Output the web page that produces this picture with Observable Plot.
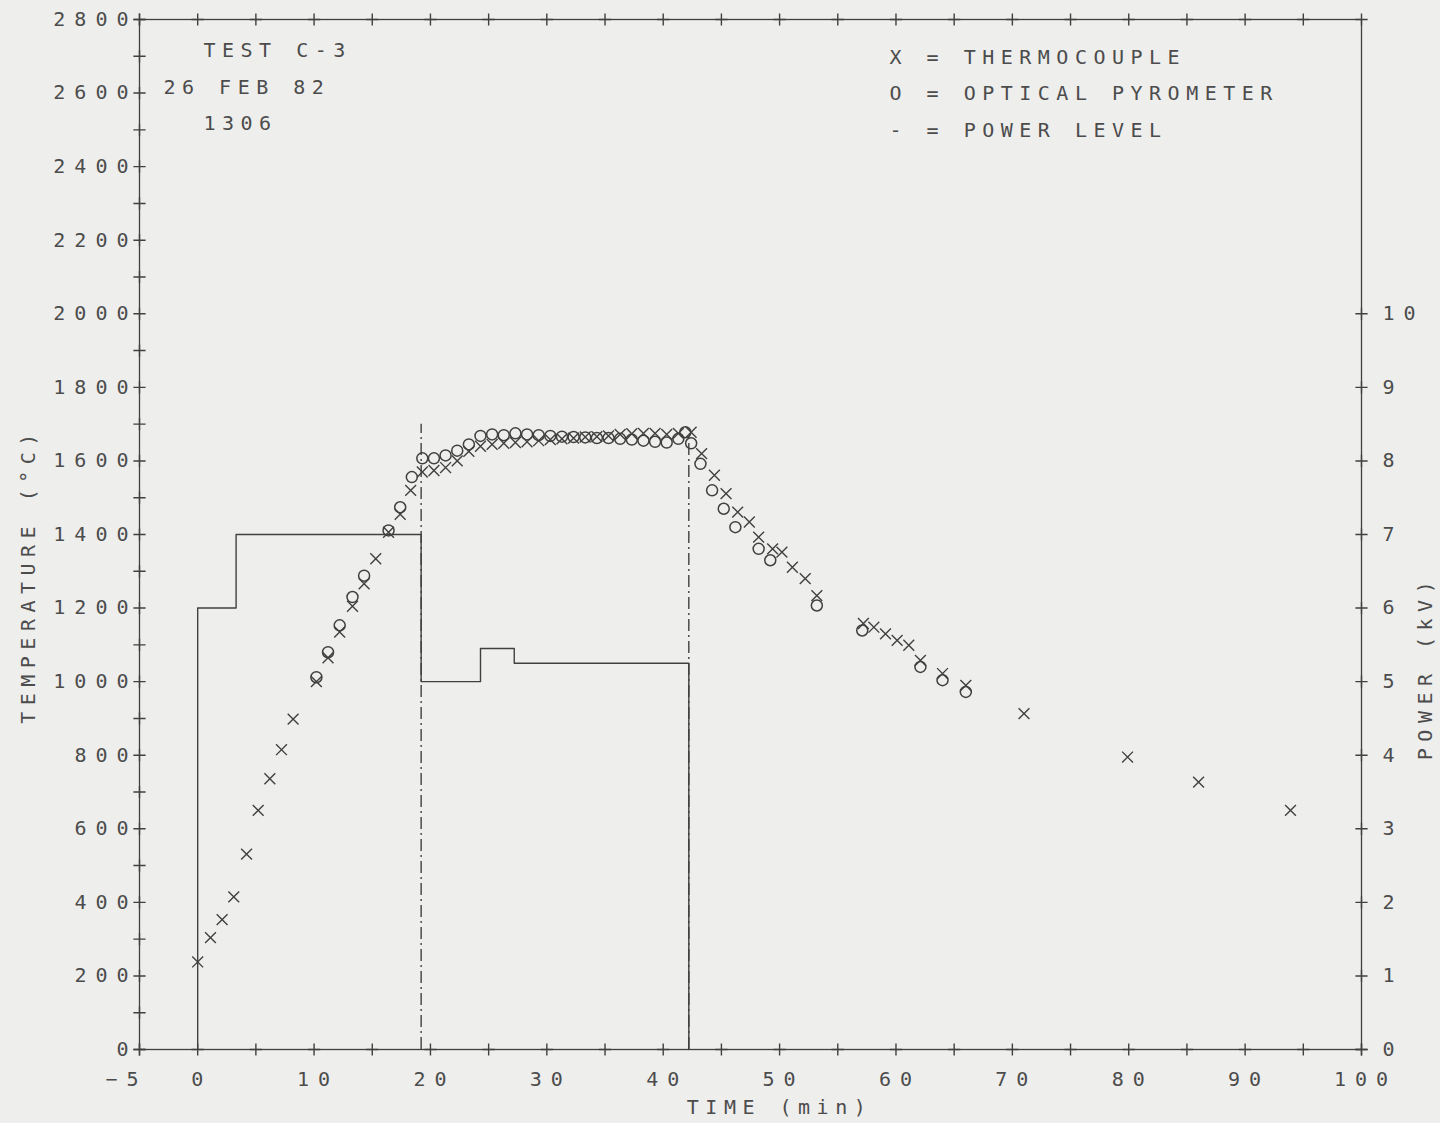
<!DOCTYPE html>
<html>
<head>
<meta charset="utf-8">
<script src="https://cdn.jsdelivr.net/npm/d3@7"></script>
<script src="https://cdn.jsdelivr.net/npm/@observablehq/plot@0.6"></script>
<style>
  html, body { margin: 0; padding: 0; background: #eeeeec; }
  #chart { width: 1440px; height: 1123px; }
</style>
</head>
<body>
<div id="chart"></div>
<script>
// ---- Thermocouple (X) readings: time (min), temperature (°C)
const tcTime = [0.0, 1.1, 2.1, 3.1, 4.2, 5.2, 6.2, 7.2, 8.2, 10.2, 11.2, 12.2, 13.3, 14.3, 15.3, 16.4, 17.4, 18.3,
  19.3, 20.3, 21.3, 22.3, 23.3, 24.3, 25.3, 26.3, 27.3, 28.3, 29.3, 30.3, 31.3, 32.3, 33.3, 34.3, 35.3, 36.3, 37.3, 38.3, 39.3, 40.3, 41.3, 42.4,
  43.3, 44.4, 45.4, 46.4, 47.4, 48.2, 49.4, 50.2, 51.1, 52.2, 53.2,
  57.2, 58.1, 59.1, 60.1, 61.1, 62.1, 64.0, 66.0, 71.0, 79.9, 86.0, 93.9];
const tcTemp = [238, 304, 353, 415, 531, 650, 736, 815, 898, 1000, 1065, 1135, 1205, 1266, 1334, 1406, 1455, 1520,
  1570, 1574, 1582, 1600, 1626, 1640, 1645, 1648, 1650, 1652, 1655, 1658, 1660, 1662, 1665, 1666, 1668, 1672, 1674, 1675, 1675, 1672, 1675, 1678,
  1620, 1561, 1511, 1461, 1434, 1393, 1361, 1352, 1311, 1280, 1234,
  1158, 1148, 1130, 1112, 1099, 1058, 1022, 990, 913, 795, 727, 650];

// ---- Optical pyrometer (O) readings
const pyTime = [10.2, 11.2, 12.2, 13.3, 14.3, 16.4, 17.4, 18.4, 19.3, 20.3, 21.3, 22.3, 23.3, 24.3, 25.3, 26.3, 27.3, 28.3, 29.3,
  30.3, 31.3, 32.3, 33.3, 34.3, 35.3, 36.3, 37.3, 38.3, 39.3, 40.3, 41.3, 41.9, 42.4,
  43.2, 44.2, 45.2, 46.2, 48.2, 49.2, 53.2, 57.1, 62.1, 64.0, 66.0];
const pyTemp = [1012, 1080, 1153, 1230, 1288, 1411, 1474, 1556, 1607, 1607, 1615, 1628, 1645, 1668, 1672, 1670, 1675, 1672, 1670,
  1668, 1666, 1665, 1664, 1662, 1662, 1660, 1658, 1655, 1652, 1650, 1660, 1678, 1648,
  1592, 1520, 1470, 1420, 1361, 1330, 1207, 1139, 1040, 1004, 972];

// ---- Power level (kV), step changes
const powerTime = [0, 0, 3.3, 19.2, 24.3, 27.2, 42.2];
const powerKV   = [0, 6, 7, 5, 5.45, 5.25, 0];

// ---- Power on/off event markers (dash-dot verticals)
const eventTime = [19.2, 42.2];
const eventTop  = [1700, 1670];

// ---- Ticks and labels
const xTickMarks  = d3.range(-5, 101, 5);
const xLabelTicks = [0, 10, 20, 30, 40, 50, 60, 70, 80, 90, 100];
const xTickLabels = ["0", "10", "20", "30", "40", "50", "60", "70", "80", "90", "100"];
const xMinTick = -5, xMinLabel = "−5";
const yTickMarks  = d3.range(0, 2801, 100);
const yLabelTicks = d3.range(0, 2801, 200);
const powerTicks  = [0, 1, 2, 3, 4, 5, 6, 7, 8, 9, 10];
const kvToTemp = 200; // right axis: 1 kV per 200 °C

const annotLines = ["TEST C-3", "26 FEB 82", "1306"];
const legendLines = ["X = THERMOCOUPLE", "O = OPTICAL PYROMETER", "- = POWER LEVEL"];

const tcData = tcTime.map((t, i) => ({t, T: tcTemp[i]}));
const pyData = pyTime.map((t, i) => ({t, T: pyTemp[i]}));
const powerData = powerTime.map((t, i) => ({t, kv: powerKV[i]}));
const events = eventTime.map((t, i) => ({t, top: eventTop[i]}));
const powerTickTemps = powerTicks.map(k => k * kvToTemp);

const ink = "#404040";
const textInk = "#4c4c4c";

// "+" shaped plotter tick: a rotated "times" symbol centred on the axis line
const cross = {symbol: "times", rotate: 45, r: 4, stroke: ink, strokeWidth: 1.4};

const plot = Plot.plot({
  width: 1440,
  height: 1123,
  marginLeft: 139,
  marginRight: 79,
  marginTop: 19,
  marginBottom: 74,
  style: {
    background: "transparent",
    color: textInk,
    fontFamily: "'DejaVu Sans Mono', monospace",
    fontSize: "20px",
    letterSpacing: "6.5px"
  },
  x: {domain: [-5, 100], label: null},
  y: {domain: [0, 2800], label: null},
  marks: [
    Plot.frame({stroke: ink, strokeWidth: 1.3}),
    // cross ("+") tick marks on all four sides
    Plot.dot(xTickMarks, {x: d => d, frameAnchor: "bottom", ...cross}),
    Plot.dot(xTickMarks, {x: d => d, frameAnchor: "top", ...cross}),
    Plot.dot(yTickMarks, {y: d => d, frameAnchor: "left", ...cross}),
    Plot.dot(powerTickTemps, {y: d => d, frameAnchor: "right", ...cross}),
    // tick labels
    Plot.axisX({anchor: "bottom", ticks: xLabelTicks, tickSize: 0, tickPadding: 22, dx: 4,
      tickFormat: d => xTickLabels[xLabelTicks.indexOf(d)], label: null}),
    Plot.axisX({anchor: "bottom", ticks: [xMinTick], tickSize: 0, tickPadding: 22, dx: -13,
      tickFormat: () => xMinLabel, label: null}),
    Plot.axisY({anchor: "left", ticks: yLabelTicks, tickSize: 0, tickPadding: 2, tickFormat: d => String(d), label: null}),
    Plot.axisY({anchor: "right", ticks: powerTickTemps, tickSize: 0, tickPadding: 21,
      tickFormat: d => String(d / kvToTemp), label: null}),
    // axis titles
    Plot.text(["TEMPERATURE (°C)"], {text: d => d, frameAnchor: "left", textAnchor: "middle", rotate: -90, dx: -111, dy: 41, fill: textInk}),
    Plot.text(["POWER (kV)"], {text: d => d, frameAnchor: "right", textAnchor: "middle", rotate: -90, dx: 64, dy: 133, fill: textInk}),
    Plot.text(["TIME (min)"], {text: d => d, frameAnchor: "bottom", textAnchor: "middle", dx: 29, dy: 64, fill: textInk}),
    // annotation
    Plot.text([annotLines[0]], {text: d => d, frameAnchor: "top-left", textAnchor: "start", dx: 64, dy: 23, fill: textInk}),
    Plot.text([annotLines[1]], {text: d => d, frameAnchor: "top-left", textAnchor: "start", dx: 24, dy: 60, fill: textInk}),
    Plot.text([annotLines[2]], {text: d => d, frameAnchor: "top-left", textAnchor: "start", dx: 64, dy: 96, fill: textInk}),
    // legend
    Plot.text([legendLines.join("\n")], {text: d => d, frameAnchor: "top-left", textAnchor: "start", lineAnchor: "middle",
      lineHeight: 1.83, dx: 750, dy: 69, fill: textInk}),
    // power level
    Plot.line(powerData, {x: "t", y: d => d.kv * kvToTemp, curve: "step-after", stroke: ink, strokeWidth: 1.4}),
    Plot.ruleX(events, {x: "t", y1: () => 0, y2: "top", stroke: ink, strokeWidth: 1.4, strokeDasharray: "12,4,2,4"}),
    // measurements
    Plot.dot(tcData, {x: "t", y: "T", symbol: "times", r: 5, stroke: ink, strokeWidth: 1.4}),
    Plot.dot(pyData, {x: "t", y: "T", symbol: "circle", r: 5.5, fill: "none", stroke: ink, strokeWidth: 1.5})
  ]
});

plot.querySelectorAll('[aria-label$="tick label"]').forEach(g => { g.style.letterSpacing = "9px"; });
document.getElementById("chart").appendChild(plot);
</script>
</body>
</html>
